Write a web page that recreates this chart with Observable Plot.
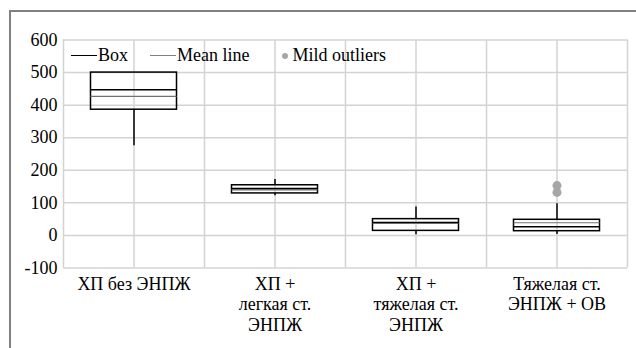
<!DOCTYPE html>
<html>
<head>
<meta charset="utf-8">
<script src="https://cdn.jsdelivr.net/npm/d3@7"></script>
<script src="https://cdn.jsdelivr.net/npm/@observablehq/plot@0.6"></script>
<style>
  html, body { margin: 0; padding: 0; background: #fff; overflow: hidden; }
  #wrap { position: relative; width: 636px; height: 348px; }
  #frame { position: absolute; left: 9px; top: 10px; width: 700px; height: 400px; border-top: 2px solid #808080; border-left: 2px solid #808080; pointer-events: none; }
  #legend { position: absolute; left: 71px; top: 44px; height: 22px; font-size: 18px; line-height: 22px; color: #000; white-space: nowrap; }
  #legend .item { display: inline-block; position: relative; margin-right: 22px; }
  #legend .line { display: inline-block; width: 26px; height: 0; vertical-align: middle; position: relative; top: -1px; margin-right: 1px; }
  #legend .dot { display: inline-block; width: 6px; height: 6px; border-radius: 50%; background: #a6a6a6; vertical-align: middle; margin: 0 5px 0 10px; position: relative; top: -1px; }
</style>
</head>
<body>
<div id="wrap">
  <div id="chart"></div>
  <div id="legend"></div>
  <div id="frame"></div>
</div>
<script>
// Categories (x axis labels)
const categories = ["ХП без ЭНПЖ", "ХП +\nлегкая ст.\nЭНПЖ", "ХП +\nтяжелая ст.\nЭНПЖ", "Тяжелая ст.\nЭНПЖ + ОВ"];
// Box statistics per category
const mins    = [275, 122, 2, 3];
const q1s     = [386, 129, 14, 13];
const medians = [447, 144, 40, 27];
const means   = [427, 140, 38, 39];
const q3s     = [500, 154, 50, 48];
const maxs    = [500, 172, 87, 97];
// Mild outliers
const outlierCategory = [3, 3];
const outlierValues   = [153, 132];
// Y ticks
const yTicks = [-100, 0, 100, 200, 300, 400, 500, 600];
// Legend labels
const legendLabels = ["Box", "Mean line", "Mild outliers"];

const FONT = "'Liberation Serif', 'Times New Roman', serif";
const halfBox = 0.305;
const rows = categories.map((c, i) => ({
  pos: i + 0.5, label: c,
  min: mins[i], q1: q1s[i], median: medians[i], mean: means[i], q3: q3s[i], max: maxs[i]
}));
const outliers = outlierValues.map((v, i) => ({pos: outlierCategory[i] + 0.5, value: v}));
const xGrid = d3.range(0, categories.length + 0.01, 0.5);

const grid = {stroke: "#d3d3d3", strokeOpacity: 1, strokeWidth: 1.5};

const chart = Plot.plot({
  width: 636,
  height: 348,
  marginLeft: 63,
  marginRight: 9,
  marginTop: 39.5,
  marginBottom: 80.5,
  style: {fontSize: "18px", color: "#000", background: "transparent"},
  x: {type: "linear", domain: [0, categories.length], axis: null, label: null},
  y: {domain: [-100, 600], axis: null, label: null},
  marks: [
    Plot.gridX(xGrid, grid),
    Plot.gridY(yTicks, grid),
    Plot.axisY({ticks: yTicks, tickSize: 0, tickPadding: 6, fontSize: 18, label: null, tickFormat: d => d, fill: "#000"}),
    Plot.axisX({ticks: rows.map(r => r.pos), tickFormat: (d, i) => categories[i], tickSize: 0, tickPadding: 7, fontSize: 18, lineHeight: 1.14, label: null, fill: "#000"}),
    // whiskers
    Plot.ruleX(rows, {x: "pos", y1: "min", y2: "q1", stroke: "#000", strokeWidth: 1.5}),
    Plot.ruleX(rows, {x: "pos", y1: "q3", y2: "max", stroke: "#000", strokeWidth: 1.5}),
    // boxes
    Plot.rect(rows, {x1: d => d.pos - halfBox, x2: d => d.pos + halfBox, y1: "q1", y2: "q3", fill: "none", stroke: "#000", strokeWidth: 1.5}),
    // mean line
    Plot.ruleY(rows, {y: "mean", x1: d => d.pos - halfBox, x2: d => d.pos + halfBox, stroke: "#707070", strokeWidth: 1.2}),
    // median line
    Plot.ruleY(rows, {y: "median", x1: d => d.pos - halfBox, x2: d => d.pos + halfBox, stroke: "#000", strokeWidth: 1.5}),
    // outliers
    Plot.dot(outliers, {x: "pos", y: "value", r: 4.5, fill: "#a6a6a6", stroke: "none"})
  ]
});
chart.style.fontFamily = FONT;
d3.select(chart).selectAll("text, g").each(function() { this.style.setProperty("font-family", FONT, "important"); });
document.getElementById("chart").appendChild(chart);

const legend = document.getElementById("legend");
legend.style.fontFamily = FONT;
const styles = [
  {type: "line", color: "#000", w: 1.5},
  {type: "line", color: "#808080", w: 1.2},
  {type: "dot"}
];
legendLabels.forEach((lab, i) => {
  const item = document.createElement("span");
  item.className = "item";
  const s = styles[i];
  const sw = document.createElement("span");
  if (s.type === "line") {
    sw.className = "line";
    sw.style.borderTop = s.w + "px solid " + s.color;
  } else {
    sw.className = "dot";
  }
  item.appendChild(sw);
  const t = document.createElement("span");
  t.textContent = lab;
  t.style.fontFamily = FONT;
  item.appendChild(t);
  legend.appendChild(item);
});
</script>
</body>
</html>
